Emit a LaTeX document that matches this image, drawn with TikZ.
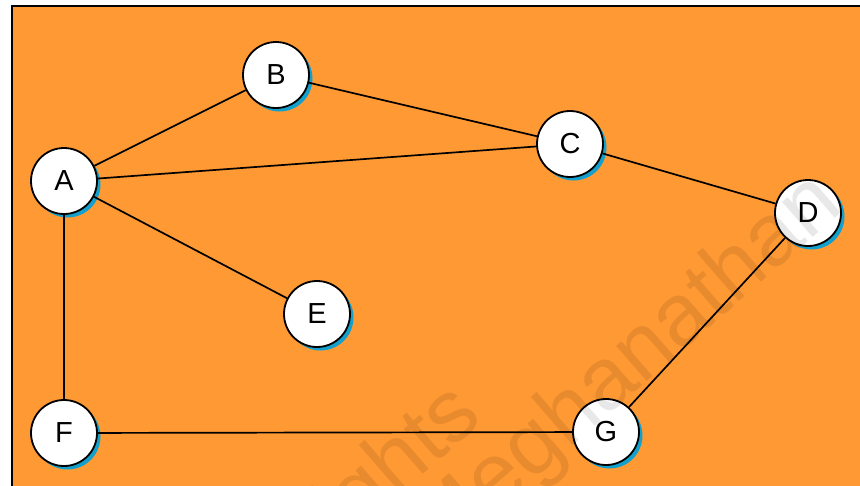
\documentclass[tikz,border=0pt]{standalone}
\usepackage{fontspec}
\setmainfont{Liberation Sans}
\definecolor{bgorange}{HTML}{FF9933}
\definecolor{shadowblue}{HTML}{13A0CC}
\begin{document}
\begin{tikzpicture}[x=1pt,y=-1pt,
  vertex/.style={circle, draw=black, line width=1.8pt, fill=white, minimum size=66pt, inner sep=0pt,
    font=\fontsize{29}{34}\selectfont},
  nodeshadow/.style={circle, fill=shadowblue, minimum size=66pt, inner sep=0pt},
  edge/.style={draw=black, line width=1.7pt},
  wmark/.style={text=black, opacity=0.09, rotate=41, anchor=base east, inner sep=0pt,
    font=\fontsize{88}{100}\selectfont}]
\useasboundingbox (0,0) rectangle (860,485);
\fill[white] (0,0) rectangle (860,485);
\draw[line width=2pt, fill=bgorange] (12,6) rectangle (870,495);
% shadows
\foreach \px/\py [count=\i] in {64/181,276/75,570/144,808/213,317/314,64/433,606/432}
  \node[nodeshadow] (s\i) at (\px+3.5,\py+3.5) {};
% nodes
\node[vertex] (A) at (64,181) {A};
\node[vertex] (B) at (276,75) {B};
\node[vertex] (C) at (570,144) {C};
\node[vertex] (D) at (808,213) {D};
\node[vertex] (E) at (317,314) {E};
\node[vertex] (F) at (64,433) {F};
\node[vertex] (G) at (606,432) {G};
% edges
\path[edge] (A) -- (B);
\path[edge] (B) -- (C);
\path[edge] (A) -- (C);
\path[edge] (C) -- (D);
\path[edge] (A) -- (E);
\path[edge] (A) -- (F);
\path[edge] (F) -- (G);
\path[edge] (G) -- (D);
% watermark
\begin{scope}
\clip (13,7) rectangle (860,485);
\node[wmark] (w1) at (485,420) {rights};
\node[wmark] (w2) at (846,209) {Meghanathan};
\end{scope}
\end{tikzpicture}
\end{document}
